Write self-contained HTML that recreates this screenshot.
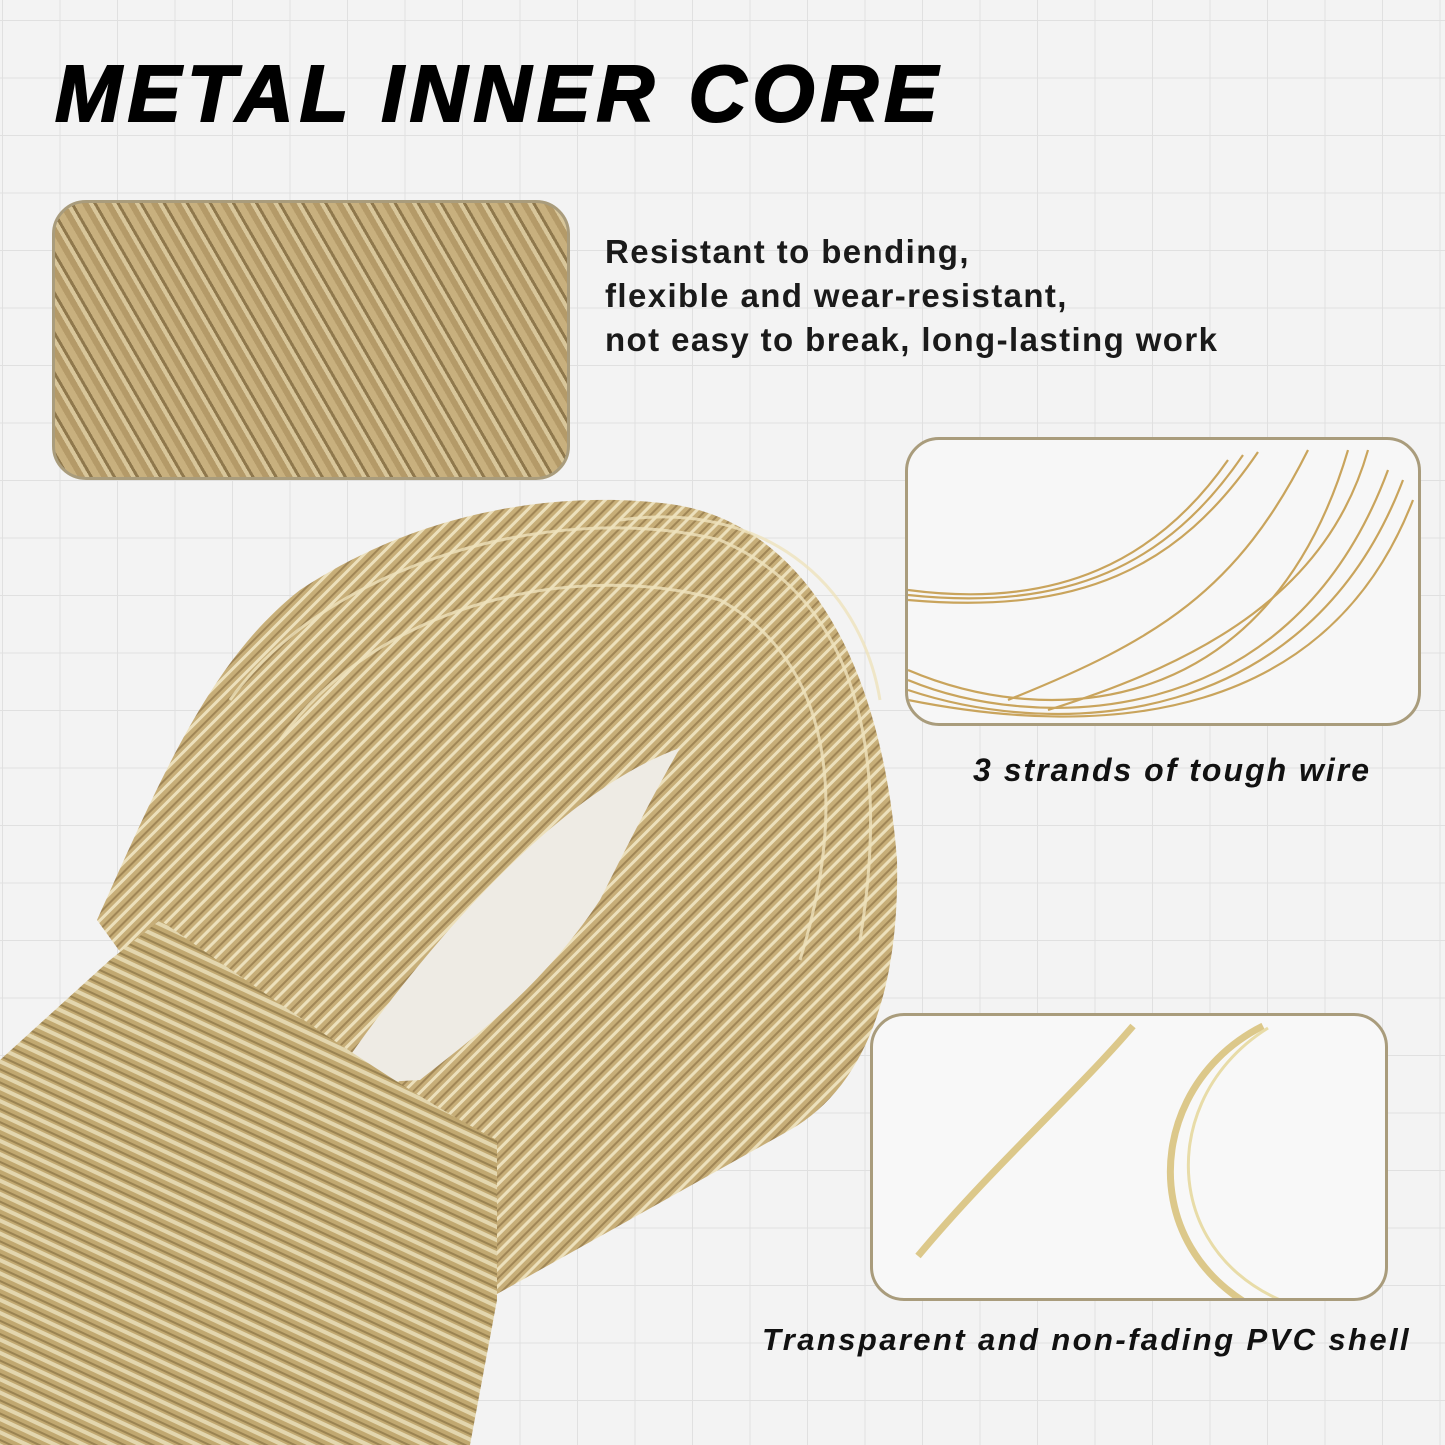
<!DOCTYPE html>
<html><head><style>
body{margin:0;width:1445px;height:1445px;overflow:hidden;position:relative;font-family:"Liberation Sans",sans-serif;
background-color:#f3f3f3;
background-image:linear-gradient(#e0e0e0 1px,transparent 1px),linear-gradient(90deg,#e0e0e0 1px,transparent 1px);
background-size:57.5px 57.5px;background-position:2px 20px;}
.t{position:absolute;font-weight:bold;color:#111;white-space:nowrap}
.box{position:absolute;border:3px solid #a99c7c;border-radius:34px;overflow:hidden}
</style></head><body>
<div class="t" style="left:55px;top:48px;font-size:80px;font-style:italic;letter-spacing:6px;color:#000;-webkit-text-stroke:2px #000">METAL INNER CORE</div>
<div class="box" style="left:52px;top:200px;width:512px;height:274px;background:repeating-linear-gradient(60deg,#b49a68 0 6px,#d8c69a 6px 10px,#8f784c 10px 13px,#c8b07e 13px 20px)"></div>
<div class="t" style="left:605px;top:230px;font-size:33px;letter-spacing:1.4px;line-height:44px;color:#1a1a1a">Resistant to bending,<br>flexible and wear-resistant,<br>not easy to break, long-lasting work</div>
<div class="box" style="left:905px;top:437px;width:510px;height:283px;background:#f7f7f7">
<svg width="510" height="283"><g fill="none" stroke="#c9a45c" stroke-width="2.2">
<path d="M0 150 C150 170 250 120 320 20"/><path d="M0 155 C160 172 260 125 335 15"/><path d="M0 160 C170 175 270 130 350 12"/>
<path d="M0 240 C120 290 380 300 480 30"/><path d="M0 250 C150 300 400 290 495 40"/><path d="M0 230 C140 290 360 280 440 10"/>
<path d="M100 260 C250 200 330 150 400 10"/><path d="M140 270 C300 220 420 150 460 10"/><path d="M0 260 C200 300 420 280 505 60"/></g></svg></div>
<div class="t" style="left:973px;top:752px;font-size:32px;font-style:italic;letter-spacing:2px">3 strands of tough wire</div>
<div class="box" style="left:870px;top:1013px;width:512px;height:282px;background:#f8f8f8">
<svg width="512" height="282"><g fill="none" stroke="#dcc88a" stroke-width="7"><path d="M45 240 C120 150 200 80 260 10"/><path d="M390 10 C250 80 260 300 480 320"/></g>
<g fill="none" stroke="#e8dca8" stroke-width="3"><path d="M395 12 C270 90 290 280 470 300"/></g></svg></div>
<div class="t" style="left:762px;top:1322px;font-size:31px;font-style:italic;letter-spacing:2.4px">Transparent and non-fading PVC shell</div>
<svg style="position:absolute;left:0;top:0" width="1445" height="1445">
<defs>
<pattern id="p" width="12" height="12" patternUnits="userSpaceOnUse" patternTransform="rotate(25)"><rect width="12" height="12" fill="#c1a870"/><rect width="12" height="4" fill="#e3d6ae"/><rect y="8" width="12" height="2" fill="#9a8352"/></pattern>
<pattern id="q" width="12" height="12" patternUnits="userSpaceOnUse" patternTransform="rotate(-45)"><rect width="12" height="12" fill="#c7ae78"/><rect width="12" height="3" fill="#ece0bc"/><rect y="7" width="12" height="2" fill="#a08656"/></pattern>
</defs>
<path d="M97 920 C160 780 210 660 300 590 C420 510 560 490 670 504 C790 520 880 640 897 860 C900 1000 860 1090 790 1130 L497 1294 L300 1200 Z" fill="url(#q)"/>
<path d="M330 1085 C420 950 560 790 680 748 C650 800 620 860 600 900 C540 990 470 1040 420 1080 Z" fill="#eeebe4"/>
<path d="M0 1060 L110 960 L160 920 C260 990 400 1090 497 1140 L497 1300 L470 1445 L0 1445 Z" fill="url(#p)"/>
<g fill="none" stroke="#efe3bd" stroke-width="3" opacity=".8"><path d="M230 700 C330 560 560 500 720 540 C860 600 890 760 860 940"/><path d="M280 740 C380 600 580 560 720 600 C830 660 850 800 800 960"/><path d="M620 520 C760 500 860 580 880 700"/></g>
</svg>
</body></html>
